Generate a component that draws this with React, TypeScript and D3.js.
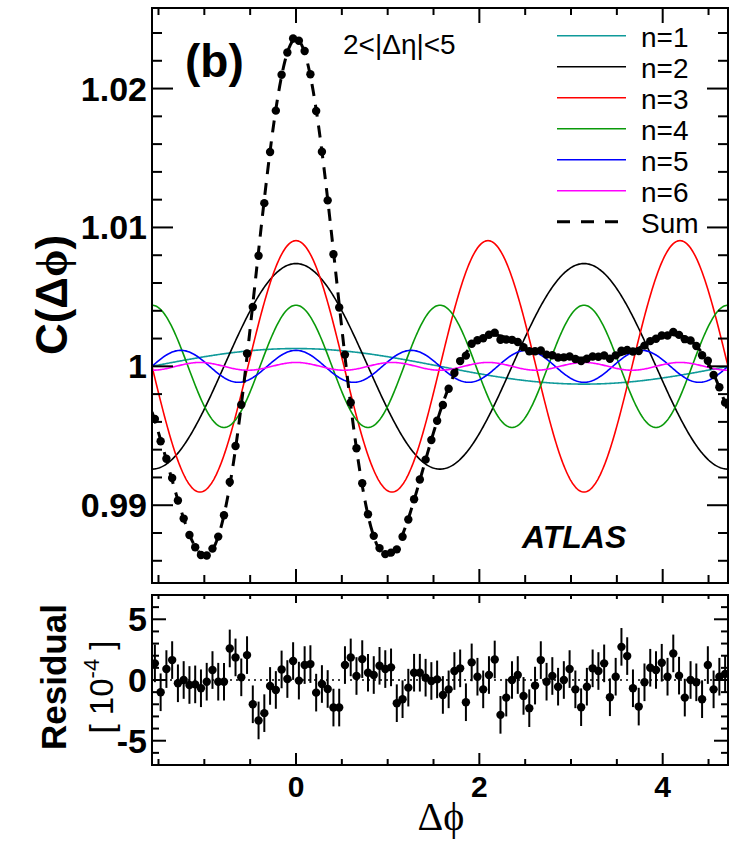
import React from "react";
import * as d3 from "d3";

// Fourier harmonics of the correlation: C(Δφ) = 1 + Σ 2v_n cos(nΔφ)
const HARMONIC_ORDERS = [1, 2, 3, 4, 5, 6];
const HARMONIC_AMPLITUDES = [0.00128, 0.0074, 0.00905, 0.0044, 0.00115, 0.00028]; // 2·v_n
const HARMONIC_COLORS = ["#0f9a9a", "#000000", "#ff0000", "#0a9a0a", "#0000ff", "#ff00ff"];
const LEGEND_LABELS = ["n=1", "n=2", "n=3", "n=4", "n=5", "n=6", "Sum"];

// Fit residuals per Δφ bin, in units of 10^-4
const RESIDUALS = [
  1.37, -1.01, 0.9, 1.64, -0.27, 0.0, -0.41, -0.36, -0.68, -0.14,
  0.82, -0.14, -0.14, 2.6, 1.86, 0.22, 2.05, -2.0, -3.33, -2.73,
  -0.49, -0.82, 0.87, 0.08, 1.56, -0.05, 1.23, 1.31, -1.04, -0.33,
  -0.74, -2.27, -2.27, 1.23, 1.86, 0.33, 1.72, 0.6, 0.41, 1.17,
  0.9, 1.04, -1.91, -1.58, -0.63, 0.6, 0.6, 0.19, -0.08, 0.05,
  -1.23, -0.77, 0.74, 0.96, -1.83, 1.45, 0.27, -0.77, 0.41, 1.69,
  -2.87, -1.45, 0.0, 0.41, -1.31, -2.32, -0.46, 1.64, -0.14, 0.33,
  -0.55, 0.0, 0.9, -0.77, -2.24, -0.55, 0.96, 0.74, 1.37, -1.42,
  0.27, 2.73, 1.97, -0.68, -2.19, -0.19, 1.01, 0.82, 1.42, 0.27,
  2.19, 0.36, -1.45, 0.0, -0.19, -1.58, 1.23, -0.77, 0.27, 0.49,
];
const RESIDUAL_ERROR = 1.55; // 10^-4

const PHI_RANGE = [-Math.PI / 2, (3 * Math.PI) / 2];
const C_RANGE = [0.9844, 1.0258];
const RES_RANGE = [-7, 7];
const X_MAJOR = [0, 2, 4];
const C_MAJOR = [0.99, 1, 1.01, 1.02];
const C_MAJOR_LABELS = ["0.99", "1", "1.01", "1.02"];
const RES_MAJOR = [-5, 0, 5];
const RES_MAJOR_LABELS = ["-5", "0", "5"];

const FONT = "'Liberation Sans', Arial, Helvetica, sans-serif";
const SYMBOL_FONT = "'Liberation Serif', 'DejaVu Serif', serif";

const L = 152, R = 728;
const TOP_T = 8, TOP_B = 583;
const BOT_T = 595, BOT_B = 765;

function harmonic(k: number, phi: number) {
  return HARMONIC_AMPLITUDES[k] * Math.cos(HARMONIC_ORDERS[k] * phi);
}
function fitSum(phi: number) {
  let s = 1;
  for (let k = 0; k < HARMONIC_ORDERS.length; k++) s += harmonic(k, phi);
  return s;
}

function range(a: number, b: number, step: number) {
  const out: number[] = [];
  const n = Math.round((b - a) / step);
  for (let i = 0; i <= n; i++) out.push(+(a + i * step).toFixed(6));
  return out;
}

export default function App() {
  const x = d3.scaleLinear().domain(PHI_RANGE).range([L, R]);
  const yC = d3.scaleLinear().domain(C_RANGE).range([TOP_B, TOP_T]);
  const yR = d3.scaleLinear().domain(RES_RANGE).range([BOT_B, BOT_T]);

  const nBins = RESIDUALS.length;
  const binWidth = (PHI_RANGE[1] - PHI_RANGE[0]) / nBins;
  const centers = RESIDUALS.map((_, i) => PHI_RANGE[0] + (i + 0.5) * binWidth);
  const dataC = RESIDUALS.map((r, i) => fitSum(centers[i]) + r * 1e-4);

  const samples = d3.range(0, 601).map((i) => PHI_RANGE[0] + (i / 600) * (PHI_RANGE[1] - PHI_RANGE[0]));
  const curve = (f: (p: number) => number) =>
    d3.line<number>().x((p) => x(p)).y((p) => yC(f(p)))(samples) || "";

  const xMinor = range(-1.5, 4.5, 0.5).filter((v) => !X_MAJOR.includes(v));
  const cMinor = range(0.986, 1.024, 0.002).filter((v) => !C_MAJOR.some((m) => Math.abs(m - v) < 1e-6));
  const rMinor = range(-6, 6, 1).filter((v) => !RES_MAJOR.includes(v));

  const tickColor = "#000";

  return (
    <svg width={738} height={841} style={{ display: "block", position: "absolute", left: 0, top: 0, background: "#fff" }}>
      <rect x={0} y={0} width={738} height={841} fill="#fff" />
      <defs>
        <clipPath id="topClip">
          <rect x={L} y={TOP_T} width={R - L} height={TOP_B - TOP_T} />
        </clipPath>
        <clipPath id="botClip">
          <rect x={L} y={BOT_T} width={R - L} height={BOT_B - BOT_T} />
        </clipPath>
      </defs>

      {/* ---------- upper panel ---------- */}
      <g clipPath="url(#topClip)">
        {HARMONIC_ORDERS.map((n, k) => (
          <path key={n} d={curve((p) => 1 + harmonic(k, p))} fill="none" stroke={HARMONIC_COLORS[k]} strokeWidth={1.6} />
        ))}
        <path d={curve(fitSum)} fill="none" stroke="#000" strokeWidth={3} strokeDasharray="12 9" />
        {dataC.map((v, i) => (
          <g key={i}>
            <line x1={x(centers[i])} x2={x(centers[i])} y1={yC(v - RESIDUAL_ERROR * 1e-4)} y2={yC(v + RESIDUAL_ERROR * 1e-4)} stroke="#000" strokeWidth={2} />
            <circle cx={x(centers[i])} cy={yC(v)} r={4.2} fill="#000" />
          </g>
        ))}
      </g>

      {/* upper ticks */}
      {X_MAJOR.map((v) => (
        <g key={"tx" + v}>
          <line x1={x(v)} x2={x(v)} y1={TOP_T} y2={TOP_T + 15} stroke={tickColor} strokeWidth={2} />
          <line x1={x(v)} x2={x(v)} y1={TOP_B} y2={TOP_B - 14} stroke={tickColor} strokeWidth={2} />
        </g>
      ))}
      {xMinor.map((v) => (
        <g key={"txm" + v}>
          <line x1={x(v)} x2={x(v)} y1={TOP_T} y2={TOP_T + 7} stroke={tickColor} strokeWidth={2} />
          <line x1={x(v)} x2={x(v)} y1={TOP_B} y2={TOP_B - 8} stroke={tickColor} strokeWidth={2} />
        </g>
      ))}
      {C_MAJOR.map((v, i) => (
        <g key={"cy" + v}>
          <line x1={L} x2={L + 21} y1={yC(v)} y2={yC(v)} stroke={tickColor} strokeWidth={2} />
          <line x1={R} x2={R - 21} y1={yC(v)} y2={yC(v)} stroke={tickColor} strokeWidth={2} />
          <text x={147} y={yC(v) + 12} textAnchor="end" fontFamily={FONT} fontWeight="bold" fontSize={34}>
            {C_MAJOR_LABELS[i]}
          </text>
        </g>
      ))}
      {cMinor.map((v) => (
        <g key={"cym" + v}>
          <line x1={L} x2={L + 10} y1={yC(v)} y2={yC(v)} stroke={tickColor} strokeWidth={2} />
          <line x1={R} x2={R - 10} y1={yC(v)} y2={yC(v)} stroke={tickColor} strokeWidth={2} />
        </g>
      ))}
      <rect x={L} y={TOP_T} width={R - L} height={TOP_B - TOP_T} fill="none" stroke="#000" strokeWidth={2} />

      {/* annotations */}
      <text x={185} y={77} fontFamily={FONT} fontWeight="bold" fontSize={46}>(b)</text>
      <text x={343} y={54} fontFamily={FONT} fontSize={28}>2&lt;|Δη|&lt;5</text>
      <text x={522} y={548} fontFamily={FONT} fontWeight="bold" fontStyle="italic" fontSize={32}>ATLAS</text>

      {/* legend */}
      {LEGEND_LABELS.map((lab, i) => {
        const ly = 35.7 + i * 31;
        const isSum = i === LEGEND_LABELS.length - 1;
        return (
          <g key={lab}>
            <line
              x1={557} x2={626} y1={ly} y2={ly}
              stroke={isSum ? "#000" : HARMONIC_COLORS[i]}
              strokeWidth={isSum ? 3 : 1.6}
              strokeDasharray={isSum ? "13 11" : undefined}
            />
            <text x={641} y={ly + 11} fontFamily={FONT} fontSize={28}>{lab}</text>
          </g>
        );
      })}

      <text
        transform={`translate(67, 295) rotate(-90)`}
        textAnchor="middle"
        fontFamily={FONT}
        fontWeight="bold"
        fontSize={44}
      >
        C(Δ<tspan fontFamily={SYMBOL_FONT}>ϕ</tspan>)
      </text>

      {/* ---------- residual panel ---------- */}
      <line x1={L} x2={R} y1={yR(0)} y2={yR(0)} stroke="#000" strokeWidth={1.5} strokeDasharray="2 4" />
      <g clipPath="url(#botClip)">
        {RESIDUALS.map((r, i) => (
          <g key={i}>
            <line x1={x(centers[i])} x2={x(centers[i])} y1={yR(r - RESIDUAL_ERROR)} y2={yR(r + RESIDUAL_ERROR)} stroke="#000" strokeWidth={2} />
            <circle cx={x(centers[i])} cy={yR(r)} r={4.2} fill="#000" />
          </g>
        ))}
      </g>
      {X_MAJOR.map((v) => (
        <g key={"bx" + v}>
          <line x1={x(v)} x2={x(v)} y1={BOT_T} y2={BOT_T + 8} stroke={tickColor} strokeWidth={2} />
          <line x1={x(v)} x2={x(v)} y1={BOT_B} y2={BOT_B - 12} stroke={tickColor} strokeWidth={2} />
          <text x={x(v)} y={797} textAnchor="middle" fontFamily={FONT} fontWeight="bold" fontSize={30}>{v}</text>
        </g>
      ))}
      {xMinor.map((v) => (
        <g key={"bxm" + v}>
          <line x1={x(v)} x2={x(v)} y1={BOT_T} y2={BOT_T + 4} stroke={tickColor} strokeWidth={2} />
          <line x1={x(v)} x2={x(v)} y1={BOT_B} y2={BOT_B - 6} stroke={tickColor} strokeWidth={2} />
        </g>
      ))}
      {RES_MAJOR.map((v, i) => (
        <g key={"ry" + v}>
          <line x1={L} x2={L + 14} y1={yR(v)} y2={yR(v)} stroke={tickColor} strokeWidth={2} />
          <line x1={R} x2={R - 14} y1={yR(v)} y2={yR(v)} stroke={tickColor} strokeWidth={2} />
          <text x={147} y={yR(v) + 12} textAnchor="end" fontFamily={FONT} fontWeight="bold" fontSize={34}>
            {RES_MAJOR_LABELS[i]}
          </text>
        </g>
      ))}
      {rMinor.map((v) => (
        <g key={"rym" + v}>
          <line x1={L} x2={L + 7} y1={yR(v)} y2={yR(v)} stroke={tickColor} strokeWidth={2} />
          <line x1={R} x2={R - 7} y1={yR(v)} y2={yR(v)} stroke={tickColor} strokeWidth={2} />
        </g>
      ))}
      <rect x={L} y={BOT_T} width={R - L} height={BOT_B - BOT_T} fill="none" stroke="#000" strokeWidth={2} />

      <text transform={`translate(66, 677) rotate(-90)`} textAnchor="middle" fontFamily={FONT} fontWeight="bold" fontSize={35}>
        Residual
      </text>
      <text transform={`translate(113, 687) rotate(-90)`} textAnchor="middle" fontFamily={FONT} fontSize={33}>
        [ 10<tspan dy={-14} fontSize={22}>-4</tspan><tspan dy={14}> ]</tspan>
      </text>

      <text x={441} y={830} textAnchor="middle" fontFamily={SYMBOL_FONT} fontSize={40}>Δϕ</text>
    </svg>
  );
}
